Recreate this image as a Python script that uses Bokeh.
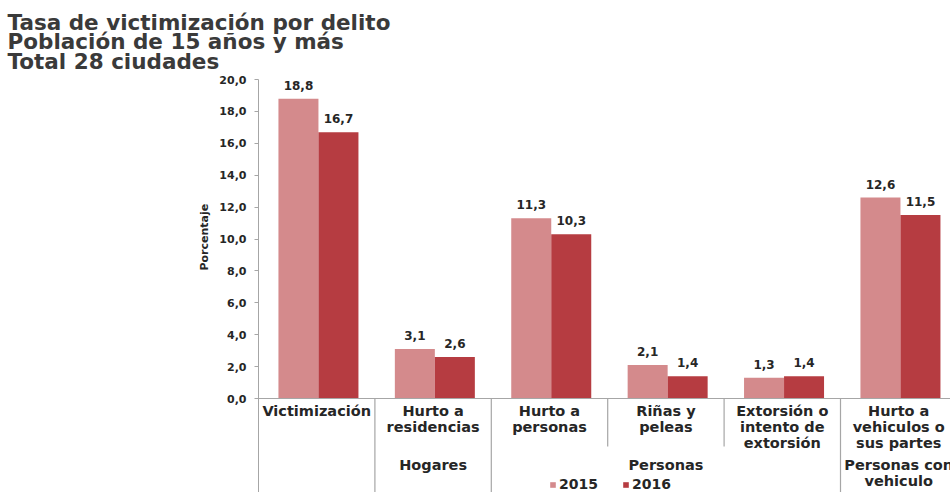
from bokeh.plotting import figure
from bokeh.models import (Range1d, FixedTicker, Span, Legend, LegendItem, Title,
                          ColumnDataSource, CustomJSTickFormatter)
from bokeh.core.properties import value
from bokeh.embed import file_html
from bokeh.resources import INLINE

# ---------------- data ----------------
title_lines = ["Tasa de victimización por delito",
               "Población de 15 años y más",
               "Total 28 ciudades"]
categories = ["Victimización",
              "Hurto a\nresidencias",
              "Hurto a\npersonas",
              "Riñas y\npeleas",
              "Extorsión o\nintento de\nextorsión",
              "Hurto a\nvehiculos o\nsus partes"]
values_2015 = [18.8, 3.1, 11.3, 2.1, 1.3, 12.6]
values_2016 = [16.7, 2.6, 10.3, 1.4, 1.4, 11.5]
series_names = ["2015", "2016"]
group_names = ["Hogares", "Personas", "Personas con\nvehiculo"]
group_first_cat = [1, 2, 5]
group_last_cat = [1, 4, 5]
y_ticks = [0, 2, 4, 6, 8, 10, 12, 14, 16, 18, 20]
y_label = "Porcentaje"

# ---------------- layout constants ----------------
W, H = 950, 492
FRAME_L, FRAME_T = 258, 79
ZERO_Y = 398
PX_CAT = 116.4
Y_MIN = -(H - ZERO_Y) / 15.95
COL15 = "#d48a8c"
COL16 = "#b63c41"
GRAY = "#a6a6a6"
FONT = value("DejaVu Sans")
TXT = "#262626"


def px_y(py):
    return (ZERO_Y - py) / 15.95


p = figure(width=W, height=H, output_backend="svg", toolbar_location=None,
           x_range=Range1d(0, (W - FRAME_L) / PX_CAT), y_range=Range1d(Y_MIN, 20.0),
           x_axis_type=None, min_border_left=FRAME_L, min_border_top=FRAME_T,
           min_border_right=0, min_border_bottom=0,
           title="\n".join(title_lines))
p.outline_line_color = None
p.grid.visible = False
p.background_fill_color = "white"
p.border_fill_color = "white"

p.title.align = "left"
p.title.offset = -(FRAME_L - 7)
p.title.standoff = 11
p.title.text_font = "DejaVu Sans"
p.title.text_font_style = "bold"
p.title.text_font_size = "21.5px"
p.title.text_color = "#3a3a3a"
p.title.text_line_height = 0.79

ax = p.yaxis[0]
ax.ticker = FixedTicker(ticks=y_ticks)
ax.formatter = CustomJSTickFormatter(code="return tick.toFixed(1).replace('.', ',');")
ax.axis_line_color = GRAY
ax.major_tick_line_color = GRAY
ax.major_tick_out = 4
ax.major_tick_in = 0
ax.minor_tick_line_color = None
ax.major_label_text_font = "DejaVu Sans"
ax.major_label_text_font_style = "bold"
ax.major_label_text_font_size = "11px"
ax.major_label_text_color = TXT
ax.major_label_standoff = 8

# y-axis title on the left side
p.add_layout(Title(text=y_label, align="left", offset=222, standoff=12,
                   text_font="DejaVu Sans", text_font_style="bold",
                   text_font_size="11px", text_color=TXT), "left")

n = len(categories)
centers = [i + 0.5 + 0.015 for i in range(n)]
bw = 40 / PX_CAT
src = ColumnDataSource(dict(
    x15=[c - bw / 2 for c in centers], x16=[c + bw / 2 for c in centers],
    v15=values_2015, v16=values_2016,
    l15=[f"{v:.1f}".replace(".", ",") for v in values_2015],
    l16=[f"{v:.1f}".replace(".", ",") for v in values_2016],
))
r15 = p.vbar(x="x15", top="v15", bottom=0, width=bw, source=src, fill_color=COL15, line_color=None)
r16 = p.vbar(x="x16", top="v16", bottom=0, width=bw, source=src, fill_color=COL16, line_color=None)

for xcol, vcol, lcol in (("x15", "v15", "l15"), ("x16", "v16", "l16")):
    p.text(x=xcol, y=vcol, text=lcol, source=src, text_align="center",
           text_baseline="bottom", y_offset=-9, text_font=FONT, text_font_style="bold",
           text_font_size="12px", text_color=TXT)

# x axis line
p.add_layout(Span(location=0, dimension="width", line_color=GRAY, line_width=1))

# separators
bounds = list(range(1, n))
long_b = set(group_first_cat) | set(g + 1 for g in group_last_cat)
y_bottom = [Y_MIN if b in long_b else px_y(446) for b in bounds]
p.segment(x0=bounds, x1=bounds, y0=[0] * len(bounds), y1=y_bottom, line_color=GRAY, line_width=1.2)

# category labels
p.text(x=[i + 0.5 for i in range(n)], y=[0] * n, text=categories, text_align="center",
       text_baseline="top", y_offset=4, text_font=FONT, text_font_style="bold",
       text_font_size="14.5px", text_color=TXT, text_line_height=1.02)

# group labels
gx = [(a + b + 1) / 2 for a, b in zip(group_first_cat, group_last_cat)]
p.text(x=gx, y=[px_y(456)] * len(gx), text=group_names, text_align="center",
       text_baseline="top", text_font=FONT, text_font_style="bold",
       text_font_size="14.5px", text_color=TXT, text_line_height=1.0)

# legend
legend = Legend(items=[LegendItem(label=series_names[0], renderers=[r15]),
                       LegendItem(label=series_names[1], renderers=[r16])],
                orientation="horizontal", location=(291, 0), padding=0, margin=0,
                spacing=24, glyph_width=7, glyph_height=7, label_standoff=3,
                label_text_font="DejaVu Sans", label_text_font_style="bold",
                label_text_font_size="14px", label_text_color=TXT,
                background_fill_alpha=0, border_line_color=None)
p.add_layout(legend)

open("out.html", "w").write(file_html(p, INLINE))
